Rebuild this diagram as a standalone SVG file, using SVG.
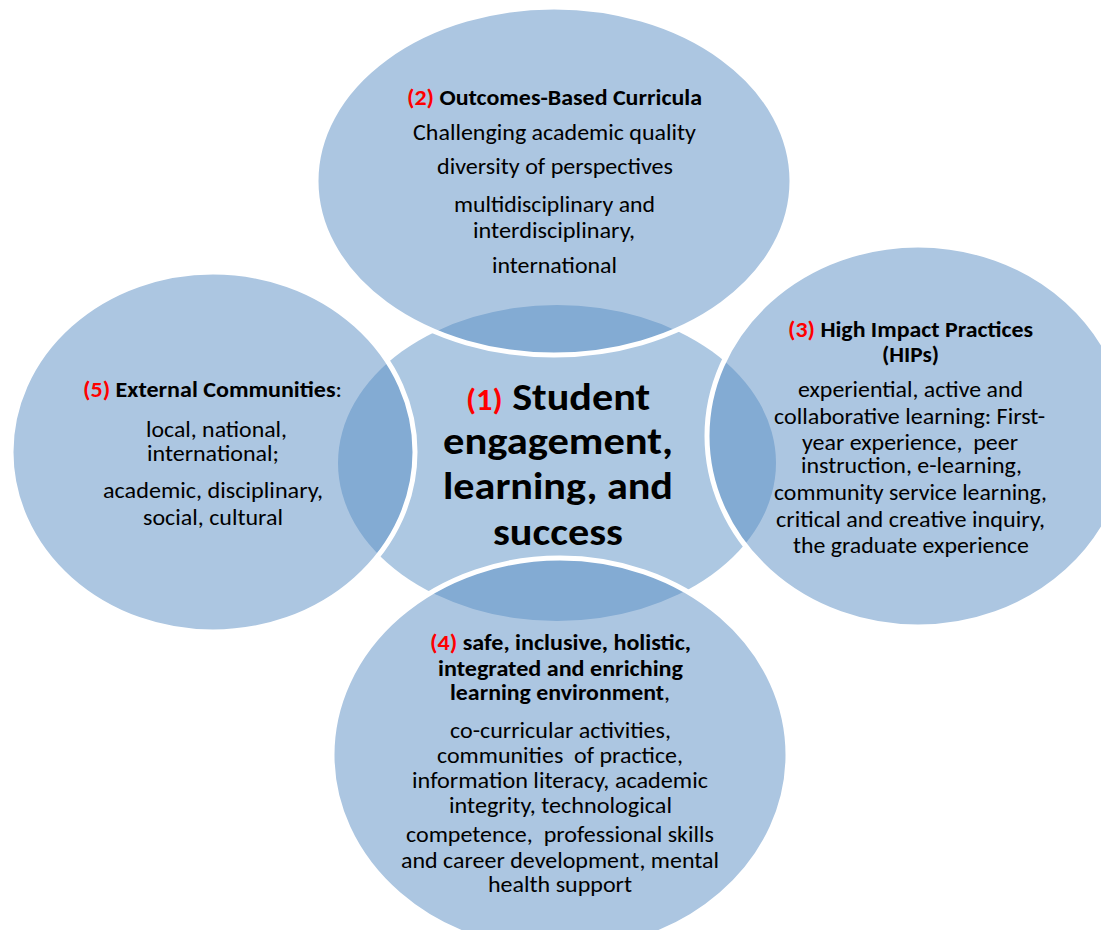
<svg xmlns="http://www.w3.org/2000/svg" width="1101" height="930" viewBox="0 0 1101 930">
  <style>
    .core{fill:#ADC8E2}
    .sat{fill:#5A8DC4;fill-opacity:.5;stroke:#fff;stroke-width:5}
    text{font-family:Calibri,Carlito,Lato,"Liberation Sans",sans-serif;fill:#000;text-anchor:middle}
    .body{font-size:22.5px}
    .head{font-size:22px;font-weight:bold}
    .big{font-size:39px;font-weight:bold}
    .num{fill:#FF0000;font-weight:bold}
    .n{font-weight:normal}
  </style>
  <rect width="1101" height="930" fill="#fff"/>

  <!-- hub -->
  <g id="node-1">
    <ellipse class="core" cx="557" cy="463" rx="219" ry="158"/>
  </g>

  <!-- satellites (translucent, drawn over the hub) -->
  <g id="node-2">
    <ellipse class="sat" cx="554" cy="181" rx="238" ry="174"/>
  </g>
  <g id="node-3">
    <ellipse class="sat" cx="918" cy="436" rx="211" ry="191"/>
  </g>
  <g id="node-4">
    <ellipse class="sat" cx="560" cy="755" rx="228" ry="197"/>
  </g>
  <g id="node-5">
    <ellipse class="sat" cx="213" cy="452" rx="202" ry="180"/>
  </g>

  <g id="connectors"></g>

  <!-- labels -->
  <g id="label-1" lengthAdjust="spacingAndGlyphs">
    <text class="big" x="558" y="410" textLength="184" lengthAdjust="spacingAndGlyphs"><tspan class="num" font-size="30">(1)</tspan> Student</text>
    <text class="big" x="558" y="454" textLength="230" lengthAdjust="spacingAndGlyphs">engagement,</text>
    <text class="big" x="558" y="499" textLength="230" lengthAdjust="spacingAndGlyphs">learning, and</text>
    <text class="big" x="558" y="545" textLength="130" lengthAdjust="spacingAndGlyphs">success</text>
  </g>
  <g id="label-2">
    <text class="head" x="554.5" y="105" textLength="295" lengthAdjust="spacingAndGlyphs"><tspan class="num">(2)</tspan> Outcomes-Based Curricula</text>
    <text class="body" x="554.5" y="140" textLength="283" lengthAdjust="spacingAndGlyphs">Challenging academic quality</text>
    <text class="body" x="555" y="174" textLength="236" lengthAdjust="spacingAndGlyphs">diversity of perspectives</text>
    <text class="body" x="554.5" y="212" textLength="201" lengthAdjust="spacingAndGlyphs">multidisciplinary and</text>
    <text class="body" x="554" y="238" textLength="162" lengthAdjust="spacingAndGlyphs">interdisciplinary,</text>
    <text class="body" x="554.5" y="273" textLength="125" lengthAdjust="spacingAndGlyphs">international</text>
  </g>
  <g id="label-3">
    <text class="head" x="910.5" y="337" textLength="245" lengthAdjust="spacingAndGlyphs"><tspan class="num">(3)</tspan> High Impact Practices</text>
    <text class="head" x="910.5" y="362" textLength="57" lengthAdjust="spacingAndGlyphs">(HIPs)</text>
    <text class="body" x="910.5" y="397" textLength="225" lengthAdjust="spacingAndGlyphs">experiential, active and</text>
    <text class="body" x="909.5" y="424" textLength="271" lengthAdjust="spacingAndGlyphs">collaborative learning: First-</text>
    <text class="body" x="910" y="450" textLength="216" lengthAdjust="spacingAndGlyphs" xml:space="preserve">year experience,  peer</text>
    <text class="body" x="911.5" y="473" textLength="221" lengthAdjust="spacingAndGlyphs">instruction, e-learning,</text>
    <text class="body" x="910.5" y="500" textLength="273" lengthAdjust="spacingAndGlyphs">community service learning,</text>
    <text class="body" x="910.5" y="527" textLength="269" lengthAdjust="spacingAndGlyphs">critical and creative inquiry,</text>
    <text class="body" x="911" y="553" textLength="236" lengthAdjust="spacingAndGlyphs">the graduate experience</text>
  </g>
  <g id="label-4">
    <text class="head" x="560.5" y="650" textLength="261" lengthAdjust="spacingAndGlyphs"><tspan class="num">(4)</tspan> safe, inclusive, holistic,</text>
    <text class="head" x="560.5" y="676" textLength="245" lengthAdjust="spacingAndGlyphs">integrated and enriching</text>
    <text class="head" x="560" y="700" textLength="220" lengthAdjust="spacingAndGlyphs">learning environment<tspan class="n">,</tspan></text>
    <text class="body" x="560.5" y="738" textLength="221" lengthAdjust="spacingAndGlyphs">co-curricular activities,</text>
    <text class="body" x="560" y="763" textLength="246" lengthAdjust="spacingAndGlyphs" xml:space="preserve">communities  of practice,</text>
    <text class="body" x="560" y="788" textLength="296" lengthAdjust="spacingAndGlyphs">information literacy, academic</text>
    <text class="body" x="560.5" y="813" textLength="223" lengthAdjust="spacingAndGlyphs">integrity, technological</text>
    <text class="body" x="560" y="842" textLength="308" lengthAdjust="spacingAndGlyphs" xml:space="preserve">competence,  professional skills</text>
    <text class="body" x="560" y="868" textLength="318" lengthAdjust="spacingAndGlyphs">and career development, mental</text>
    <text class="body" x="560" y="892" textLength="144" lengthAdjust="spacingAndGlyphs">health support</text>
  </g>
  <g id="label-5">
    <text class="head" x="212.5" y="397" textLength="259" lengthAdjust="spacingAndGlyphs"><tspan class="num">(5)</tspan> External Communities<tspan class="n">:</tspan></text>
    <text class="body" x="216.5" y="437" textLength="141" lengthAdjust="spacingAndGlyphs">local, national,</text>
    <text class="body" x="213" y="461" textLength="132" lengthAdjust="spacingAndGlyphs">international;</text>
    <text class="body" x="213" y="498" textLength="220" lengthAdjust="spacingAndGlyphs">academic, disciplinary,</text>
    <text class="body" x="213" y="525" textLength="140" lengthAdjust="spacingAndGlyphs">social, cultural</text>
  </g>
</svg>
